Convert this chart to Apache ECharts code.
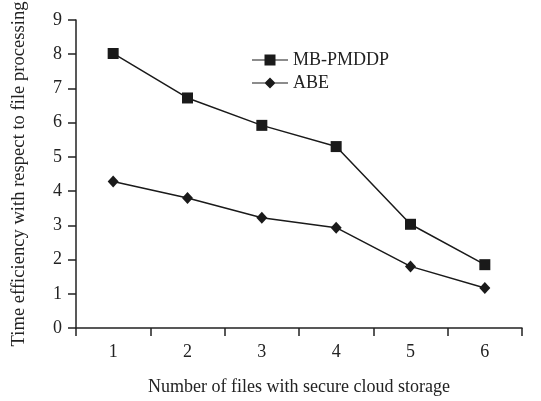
<!DOCTYPE html>
<html>
<head>
<meta charset="utf-8">
<script src="https://cdn.jsdelivr.net/npm/echarts@6/dist/echarts.min.js"></script>
<style>html,body{margin:0;padding:0;background:#fff}#c{width:541px;height:401px}</style>
</head>
<body>
<div id="c"></div>
<script>
var categories = ['1', '2', '3', '4', '5', '6'];
var mbPmddp = [8.02, 6.72, 5.92, 5.3, 3.03, 1.85];
var abe = [4.28, 3.8, 3.22, 2.93, 1.8, 1.17];
var yTicks = [0, 1, 2, 3, 4, 5, 6, 7, 8, 9];

var font = 'Liberation Serif, Times New Roman, serif';
var chart = echarts.init(document.getElementById('c'));
chart.setOption({
  animation: false,
  backgroundColor: '#fff',
  grid: { left: 76, right: 19, top: 15, bottom: 70 },
  legend: {
    left: 247, top: 46, orient: 'vertical', itemGap: 5,
    itemWidth: 36, itemHeight: 12,
    textStyle: { fontFamily: font, fontSize: 18, color: '#222' },
    data: [
      { name: 'MB-PMDDP', icon: 'path://M0,5.5 L12.5,5.5 L12.5,0.5 L23.5,0.5 L23.5,5.5 L36,5.5 L36,6.5 L23.5,6.5 L23.5,11.5 L12.5,11.5 L12.5,6.5 L0,6.5 Z' },
      { name: 'ABE', icon: 'path://M0,5.5 L13,5.5 L18,0.5 L23,5.5 L36,5.5 L36,6.5 L23,6.5 L18,11.5 L13,6.5 L0,6.5 Z' }
    ]
  },
  xAxis: {
    type: 'category', data: categories, boundaryGap: true,
    name: 'Number of files with secure cloud storage', nameLocation: 'middle', nameGap: 50,
    nameTextStyle: { fontFamily: font, fontSize: 18, color: '#222' },
    axisLine: { lineStyle: { color: '#222', width: 1.5 } },
    axisTick: { show: true, length: 8, lineStyle: { color: '#222', width: 1.5 } },
    axisLabel: { fontFamily: font, fontSize: 18, color: '#222', margin: 15 },
    splitLine: { show: false }
  },
  yAxis: {
    type: 'value', min: yTicks[0], max: yTicks[yTicks.length - 1], interval: 1,
    name: 'Time efficiency with respect to file processing', nameLocation: 'middle', nameGap: 47,
    nameTextStyle: { fontFamily: font, fontSize: 18.6, color: '#222' },
    axisLine: { show: true, lineStyle: { color: '#222', width: 1.5 } },
    axisTick: { show: true, length: 8, lineStyle: { color: '#222', width: 1.5 } },
    axisLabel: { fontFamily: font, fontSize: 18, color: '#222', margin: 14 },
    splitLine: { show: false }
  },
  series: [
    {
      name: 'MB-PMDDP', type: 'line', data: mbPmddp,
      symbol: 'rect', symbolSize: 11,
      lineStyle: { color: '#1a1a1a', width: 1.5 },
      itemStyle: { color: '#1a1a1a' }
    },
    {
      name: 'ABE', type: 'line', data: abe,
      symbol: 'diamond', symbolSize: [11, 12],
      lineStyle: { color: '#1a1a1a', width: 1.5 },
      itemStyle: { color: '#1a1a1a' }
    }
  ]
});
</script>
</body>
</html>
